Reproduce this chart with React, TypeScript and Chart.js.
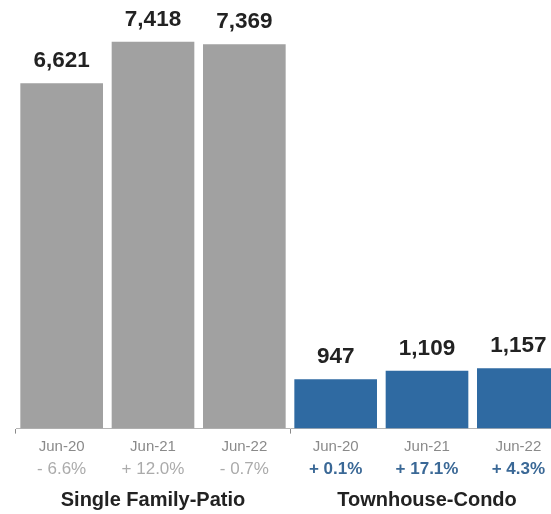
import React, { useEffect, useRef } from "react";
import { Chart, registerables } from "chart.js";

Chart.register(...registerables);

const categories = ["Jun-20", "Jun-21", "Jun-22", "Jun-20", "Jun-21", "Jun-22"];
const values = [6621, 7418, 7369, 947, 1109, 1157];
const changes = ["- 6.6%", "+ 12.0%", "- 0.7%", "+ 0.1%", "+ 17.1%", "+ 4.3%"];
const groupLabels = ["", "Single Family-Patio", "", "", "Townhouse-Condo", ""];
const groupOf = [0, 0, 0, 1, 1, 1];
const yMax = 8220;

const FONT = '"Liberation Sans", Arial, Helvetica, sans-serif';
const GRAY = "#a1a1a1";
const BLUE = "#2f6aa2";

const valueLabels = {
  id: "valueLabels",
  afterDatasetsDraw(chart: any) {
    const ctx = chart.ctx;
    const meta = chart.getDatasetMeta(0);
    ctx.save();
    ctx.font = `bold 22.5px ${FONT}`;
    ctx.fillStyle = "#222222";
    ctx.textAlign = "center";
    ctx.textBaseline = "alphabetic";
    meta.data.forEach((bar: any, i: number) => {
      ctx.fillText(values[i].toLocaleString("en-US"), bar.x, bar.y - 16);
    });
    ctx.restore();
  },
};

export default function App() {
  const ref = useRef<HTMLCanvasElement | null>(null);

  useEffect(() => {
    if (!ref.current) return;
    const chart = new Chart(ref.current, {
      type: "bar",
      data: {
        labels: categories,
        datasets: [
          {
            data: values,
            backgroundColor: groupOf.map((g) => (g === 0 ? GRAY : BLUE)),
            borderWidth: 0,
            barPercentage: 0.905,
            categoryPercentage: 1,
          },
        ],
      },
      options: {
        responsive: false,
        animation: false,
        devicePixelRatio: 1,
        layout: { padding: { left: 16, right: 2, top: 0, bottom: 3 } },
        plugins: {
          legend: { display: false },
          tooltip: { enabled: false },
        },
        scales: {
          y: { display: false, min: 0, max: yMax },
          x: {
            type: "category",
            position: "bottom",
            weight: 0,
            offset: true,
            grid: {
              display: true,
              offset: true,
              drawOnChartArea: false,
              drawTicks: true,
              tickLength: 5,
              lineWidth: 1,
              color: (c: any) => (c.index % 3 === 0 ? "#8a8a8a" : "rgba(0,0,0,0)"),
            },
            border: { display: true, color: "#b5b5b5", width: 1 },
            ticks: {
              autoSkip: false,
              maxRotation: 0,
              minRotation: 0,
              padding: 4.5,
              color: "#8a8a8a",
              font: { family: FONT, size: 15 },
            },
          },
          x2: {
            type: "category",
            position: "bottom",
            weight: 1,
            offset: true,
            labels: changes,
            grid: { display: false, drawTicks: false, tickLength: 0 },
            border: { display: false },
            ticks: {
              autoSkip: false,
              maxRotation: 0,
              minRotation: 0,
              padding: -1.5,
              color: (c: any) => (groupOf[c.index] === 0 ? "#ababab" : "#3a6896"),
              font: (c: any) =>
                groupOf[c.index] === 0
                  ? { family: FONT, size: 17, weight: "normal" }
                  : { family: FONT, size: 17, weight: "bold" },
            },
          },
          x3: {
            type: "category",
            position: "bottom",
            weight: 2,
            offset: true,
            labels: groupLabels,
            grid: { display: false, drawTicks: false, tickLength: 0 },
            border: { display: false },
            ticks: {
              autoSkip: false,
              maxRotation: 0,
              minRotation: 0,
              padding: 10,
              color: "#222222",
              font: { family: FONT, size: 20, weight: "bold" },
            },
          },
        },
      } as any,
      plugins: [valueLabels],
    });
    return () => chart.destroy();
  }, []);

  return (
    <div
      style={{
        position: "absolute",
        left: 0,
        top: 0,
        width: 551,
        height: 514,
        overflow: "hidden",
        background: "#ffffff",
      }}
    >
      <canvas ref={ref} width={566} height={525} style={{ display: "block", width: 566, height: 525 }} />
    </div>
  );
}
